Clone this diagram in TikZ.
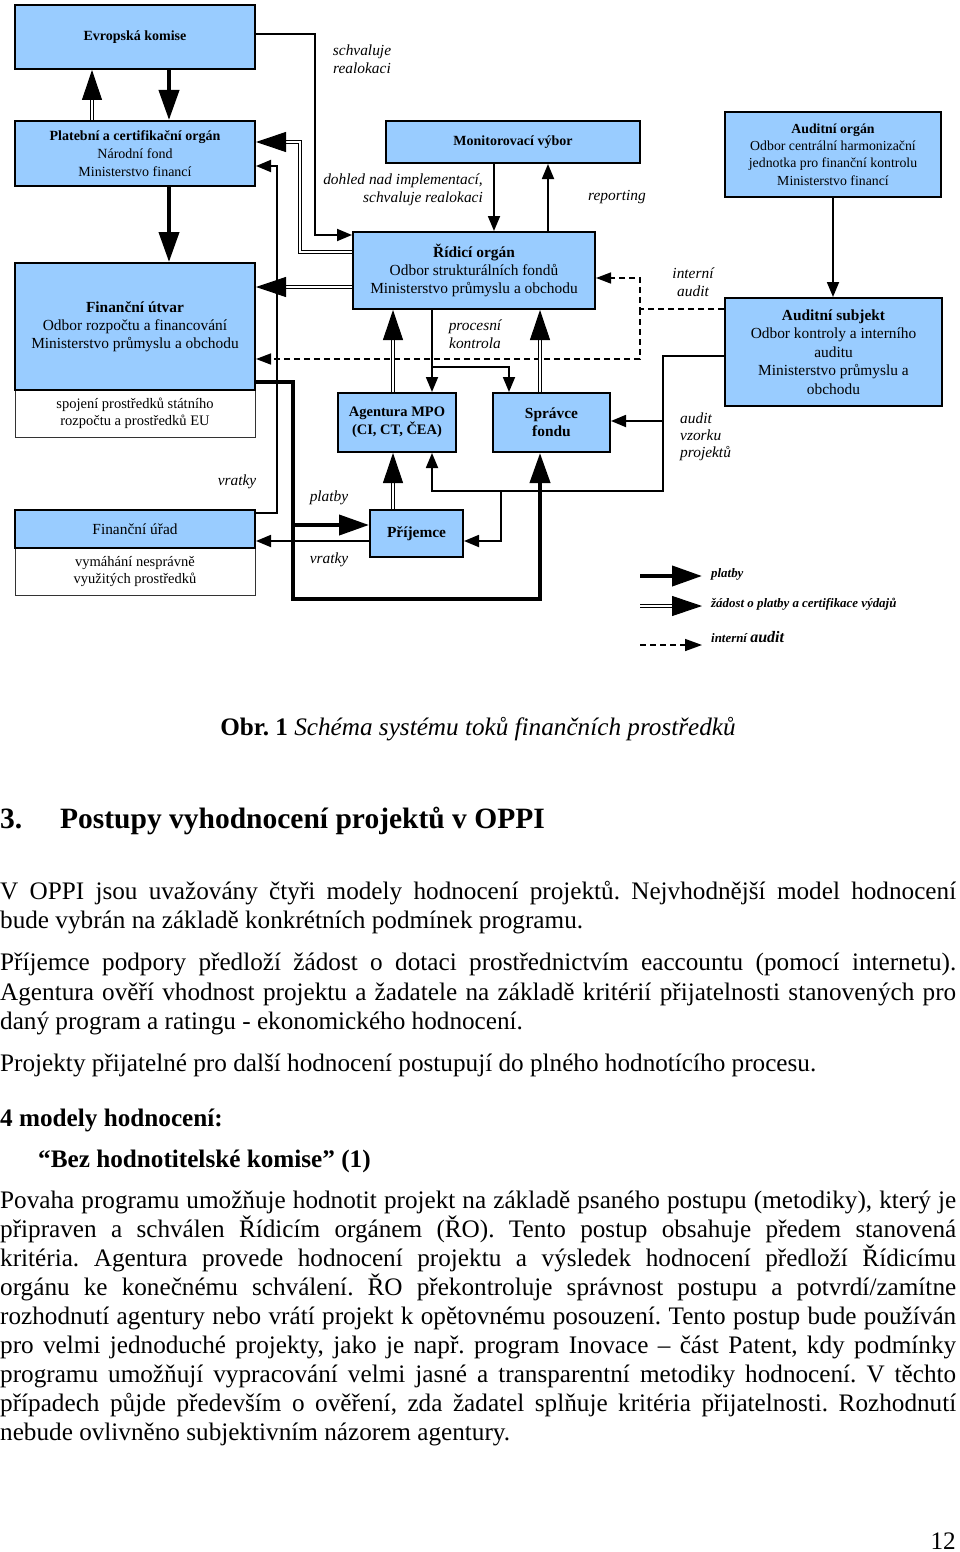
\documentclass[tikz,border=0pt]{standalone}
\usepackage{fontspec}
\setmainfont{Liberation Serif}
\usetikzlibrary{arrows.meta}
\definecolor{boxblue}{RGB}{153,204,255}
\newcommand{\fsz}[2]{\fontsize{#1}{#2}\selectfont}
\frenchspacing
\begin{document}
\begin{tikzpicture}[x=1pt,y=-1pt,
  box/.style={draw=black, line width=2pt, fill=boxblue, inner sep=0pt, align=center, font=\fsz{14}{17.5}},
  subbox/.style={draw=black!80, line width=1pt, fill=white, inner sep=0pt, align=center, font=\fsz{14.5}{17.5}},
  lab/.style={font=\fsz{15.4}{18}\itshape, align=center, inner sep=0pt},
  leg/.style={font=\fsz{12.9}{15}\bfseries\itshape, inner sep=0pt, anchor=west},
  thkarr/.style={line width=4pt, -{Triangle[length=30pt,width=20pt]}},
  dblarr/.style={double, double distance=2.5pt, line width=1pt, -{Triangle[length=30pt,width=20pt]}},
  thinarr/.style={line width=1.8pt, -{Triangle[length=15pt,width=12pt]}},
  dasharr/.style={line width=1.5pt, dash pattern=on 6pt off 4pt, -{Triangle[length=15pt,width=11pt]}},
  body/.style={font=\fsz{25.2}{29}, inner sep=0pt, anchor=base west},
]
\useasboundingbox (0,0) rectangle (960,1552);

% ---- boxes ----
\node[box, minimum width=240pt, minimum height=64pt] (ek) at (135,37) {\textbf{Evropská komise}};
\node[box, minimum width=240pt, minimum height=65pt, font=\fsz{14}{18}] (pc) at (135,153.5) {\textbf{Platební a certifikační orgán}\\Národní fond\\Ministerstvo financí};
\node[box, minimum width=254pt, minimum height=42pt] (mv) at (513,142) {\textbf{Monitorovací výbor}};
\node[box, minimum width=216pt, minimum height=85pt, font=\fsz{13.8}{17.3}] (ao) at (833,154.5) {\textbf{Auditní orgán}\\Odbor centrální harmonizační\\jednotka pro finanční kontrolu\\Ministerstvo financí};
\node[subbox, minimum width=240pt, minimum height=47pt] (fus) at (135,413.5) {spojení prostředků státního\\rozpočtu a prostředků EU};
\node[box, minimum width=240pt, minimum height=127pt, font=\fsz{15.4}{18}] (fu) at (135,326.5) {\textbf{Finanční útvar}\\Odbor rozpočtu a financování\\Ministerstvo průmyslu a obchodu};
\node[box, minimum width=242pt, minimum height=77pt, font=\fsz{15.4}{18}] (ro) at (474,270.5) {\textbf{Řídicí orgán}\\Odbor strukturálních fondů\\Ministerstvo průmyslu a obchodu};
\node[box, minimum width=217pt, minimum height=108pt, font=\fsz{15.4}{18.5}] (as) at (833.5,352) {\textbf{Auditní subjekt}\\Odbor kontroly a interního\\auditu\\Ministerstvo průmyslu a\\obchodu};
\node[box, minimum width=118pt, minimum height=59pt, font=\fsz{14.5}{18}\bfseries] (ag) at (397,422.5) {Agentura MPO\\(CI, CT, ČEA)};
\node[box, minimum width=117pt, minimum height=59pt, font=\fsz{15.4}{18}\bfseries] (sf) at (551.5,422.5) {Správce\\fondu};
\node[subbox, minimum width=240pt, minimum height=47pt] (furs) at (135,571.5) {vymáhání nesprávně\\využitých prostředků};
\node[box, minimum width=240pt, minimum height=38pt, font=\fsz{15.4}{18}] (fur) at (135,529) {Finanční úřad};
\node[box, minimum width=93pt, minimum height=47pt, font=\fsz{15.4}{18}\bfseries] (pr) at (416.5,533.5) {Příjemce};

% ---- helper coordinates ----
\coordinate (c92) at (92,0);
\coordinate (c169) at (169,0);
\coordinate (c393) at (393,0);
\coordinate (c432) at (432,0);
\coordinate (c494) at (494,0);
\coordinate (c509) at (509,0);
\coordinate (c540) at (540,0);
\coordinate (c548) at (548,0);
\coordinate (r34) at (0,34);
\coordinate (r252) at (0,252);
\coordinate (r287) at (0,287);
\coordinate (r309) at (0,309);
\coordinate (r356) at (0,356);
\coordinate (r359) at (0,359);
\coordinate (r382) at (0,382);
\coordinate (r513) at (0,513);
\coordinate (r541) at (0,541);
\coordinate (b1) at (315,235);
\coordinate (b2) at (300,142);
\coordinate (b3) at (277,166);
\coordinate (b4) at (293,599);
\coordinate (b5) at (293,525);
\coordinate (b6) at (432,367);
\coordinate (b7) at (640,278);
\coordinate (b8) at (640,309);
\coordinate (b9) at (663,491);
\coordinate (b10) at (663,421);
\coordinate (b11) at (501,491);

% ---- connectors ----
\draw[dblarr] (pc.north -| c92) -- (ek.south -| c92);
\draw[thkarr] (ek.south -| c169) -- (pc.north -| c169);
\draw[thinarr] (ek.east |- r34) -| (b1) -- (ro.west |- b1);
\draw[dblarr] (ro.west |- r252) -| (b2) -- (pc.east |- b2);
\draw[thinarr] (fur.east |- r513) -| (b3) -- (pc.east |- b3);
\draw[thkarr] (pc.south -| c169) -- (fu.north -| c169);
\draw[dblarr] (ro.west |- r287) -- (fu.east |- r287);
\draw[dasharr] (as.west |- r309) -| (b7) -- (ro.east |- b7);
\draw[dasharr] (b8) |- (fu.east |- r359);
\draw[thkarr] (fu.east |- r382) -| (b4) -| (sf.south -| c540);
\draw[thkarr] (b5) -- (pr.west |- b5);
\draw[thinarr] (pr.west |- r541) -- (fur.east |- r541);
\draw[dblarr] (pr.north -| c393) -- (ag.south -| c393);
\draw[dblarr] (ag.north -| c393) -- (ro.south -| c393);
\draw[dblarr] (sf.north -| c540) -- (ro.south -| c540);
\draw[thinarr] (ro.south -| c432) -- (ag.north -| c432);
\draw[thinarr] (b6) -| (sf.north -| c509);
\draw[thinarr] (mv.south -| c494) -- (ro.north -| c494);
\draw[thinarr] (ro.north -| c548) -- (mv.south -| c548);
\draw[thinarr] (ao.south) -- (ao.south |- as.north);
\draw[thinarr] (as.west |- r356) -| (b9) -| (ag.south -| c432);
\draw[thinarr] (b10) -- (sf.east |- b10);
\draw[thinarr] (b11) |- (pr.east |- r541);

% ---- labels ----
\node[lab] (l1) at (362,59) {schvaluje\\realokaci};
\node[lab, anchor=east, align=right] (l2) at (483,190) {dohled nad implementací,\\schvaluje realokaci};
\node[lab] (l3) at (617,197) {reporting};
\node[lab] (l4) at (693,282) {interní\\audit};
\node[lab] (l5) at (475,334) {procesní\\kontrola};
\node[lab, anchor=west, align=left, font=\fsz{15.4}{17}\itshape] (l6) at (680,437) {audit\\vzorku\\projektů};
\node[lab] (l7) at (237,482) {vratky};
\node[lab] (l8) at (329,498) {platby};
\node[lab] (l9) at (329,560) {vratky};

% ---- legend ----
\coordinate (g1s) at (640,576);
\coordinate (g1e) at (702,576);
\coordinate (g2s) at (640,606);
\coordinate (g2e) at (702,606);
\coordinate (g3s) at (640,645);
\coordinate (g3e) at (702,645);
\draw[thkarr] (g1s) -- (g1e);
\draw[dblarr] (g2s) -- (g2e);
\draw[dasharr, -{Triangle[length=17pt,width=12pt]}] (g3s) -- (g3e);
\node[leg] (gt1) at (711,574) {platby};
\node[leg] (gt2) at (711,604) {žádost o platby a certifikace výdajů};
\node[leg] (gt3) at (711,637) {interní {\fsz{16}{18}audit}};

% ---- caption and text ----
\node[font=\fsz{25.2}{29}, inner sep=0pt, anchor=base] (cap) at (478,735) {\textbf{Obr. 1} \textit{Schéma systému toků finančních prostředků}};
\node[font=\fsz{29.5}{34}\bfseries, inner sep=0pt, anchor=base west] (hd) at (0,828) {\makebox[60pt][l]{3.}Postupy vyhodnocení projektů v OPPI};
\node[body] (t1) at (0,899) {\makebox[956pt][s]{V OPPI jsou uvažovány čtyři modely hodnocení projektů. Nejvhodnější model hodnocení}};
\node[body] (t2) at (0,928) {bude vybrán na základě konkrétních podmínek programu.};
\node[body] (t3) at (0,970) {\makebox[956pt][s]{Příjemce podpory předloží žádost o dotaci prostřednictvím eaccountu (pomocí internetu).}};
\node[body] (t4) at (0,1000) {\makebox[956pt][s]{Agentura ověří vhodnost projektu a žadatele na základě kritérií přijatelnosti stanovených pro}};
\node[body] (t5) at (0,1029) {daný program a ratingu - ekonomického hodnocení.};
\node[body] (t6) at (0,1071) {Projekty přijatelné pro další hodnocení postupují do plného hodnotícího procesu.};
\node[body, font=\fsz{25.2}{29}\bfseries] (t7) at (0,1126) {4 modely hodnocení:};
\node[body, font=\fsz{25.2}{29}\bfseries] (t8) at (38,1167) {“Bez hodnotitelské komise” (1)};
\node[body] (p1) at (0,1208) {\makebox[956pt][s]{Povaha programu umožňuje hodnotit projekt na základě psaného postupu (metodiky), který je}};
\node[body] (p2) at (0,1237) {\makebox[956pt][s]{připraven a schválen Řídicím orgánem (ŘO). Tento postup obsahuje předem stanovená}};
\node[body] (p3) at (0,1266) {\makebox[956pt][s]{kritéria. Agentura provede hodnocení projektu a výsledek hodnocení předloží Řídicímu}};
\node[body] (p4) at (0,1295) {\makebox[956pt][s]{orgánu ke konečnému schválení. ŘO překontroluje správnost postupu a potvrdí/zamítne}};
\node[body] (p5) at (0,1324) {\makebox[956pt][s]{rozhodnutí agentury nebo vrátí projekt k opětovnému posouzení. Tento postup bude používán}};
\node[body] (p6) at (0,1353) {\makebox[956pt][s]{pro velmi jednoduché projekty, jako je např. program Inovace – část Patent, kdy podmínky}};
\node[body] (p7) at (0,1382) {\makebox[956pt][s]{programu umožňují vypracování velmi jasné a transparentní metodiky hodnocení. V těchto}};
\node[body] (p8) at (0,1411) {\makebox[956pt][s]{případech půjde především o ověření, zda žadatel splňuje kritéria přijatelnosti. Rozhodnutí}};
\node[body] (p9) at (0,1440) {nebude ovlivněno subjektivním názorem agentury.};
\node[body, anchor=base east] (pg) at (956,1549) {12};
\end{tikzpicture}
\end{document}
